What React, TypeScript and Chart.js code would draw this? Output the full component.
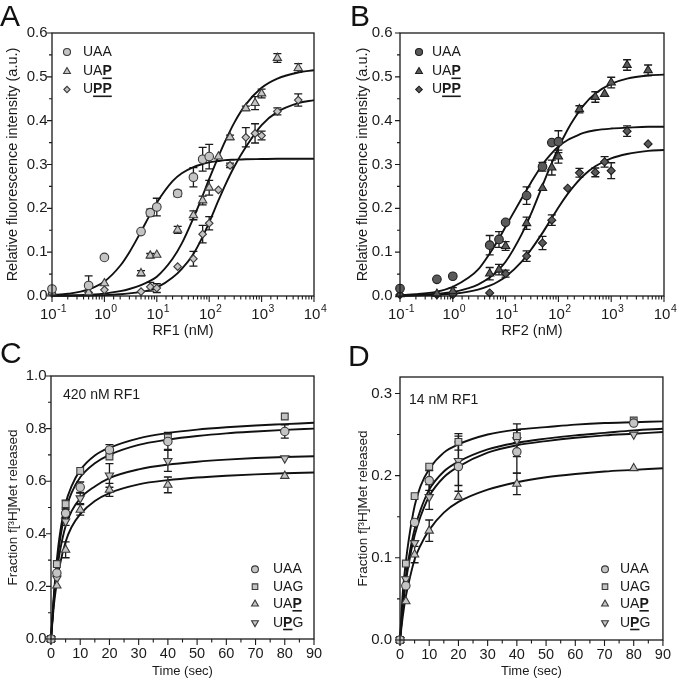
import React, { useEffect, useRef } from 'react';
import { Chart, registerables } from 'chart.js';

Chart.register(...registerables);

const FONT = "'Liberation Sans', Arial, Helvetica, sans-serif";
const TEXT = '#1a1a1a';
Chart.defaults.font.family = FONT;

// ---------------- tick labels ----------------
const LOG_TICK_BASE = '10';
const LOG_TICK_EXP = ['-1', '0', '1', '2', '3', '4'];
const Y_LABELS_AB = ['0.0', '0.1', '0.2', '0.3', '0.4', '0.5', '0.6'];
const Y_LABELS_C = ['0.0', '0.2', '0.4', '0.6', '0.8', '1.0'];
const Y_LABELS_D = ['0.0', '0.1', '0.2', '0.3'];
const TIME_LABELS = ['0', '10', '20', '30', '40', '50', '60', '70', '80', '90'];

// ---------------- Panel A : RF1 (nM) ----------------
const aConcShort = [0.1, 0.5, 1, 5, 7.5, 10, 25, 50, 75, 100];
const aConcLong = [0.1, 0.5, 1, 5, 7.5, 10, 25, 50, 75, 100, 150, 250, 500, 750, 1000, 2000, 5000];
const aUAA = [0.016, 0.024, 0.088, 0.147, 0.19, 0.203, 0.234, 0.271, 0.312, 0.318];
const aUAAerr = [0, 0.022, 0, 0, 0.008, 0.02, 0.007, 0.022, 0.027, 0.028];
const aUAP = [0.008, 0.008, 0.029, 0.052, 0.092, 0.094, 0.151, 0.184, 0.218, 0.247, 0.318, 0.362, 0.428, 0.44, 0.462, 0.543, 0.52];
const aUAPerr = [0, 0, 0, 0.006, 0.005, 0, 0.008, 0.01, 0.01, 0.017, 0, 0.005, 0.005, 0.015, 0.01, 0.01, 0.01];
const aUPP = [0.006, 0.008, 0.014, 0.01, 0.021, 0.018, 0.067, 0.085, 0.141, 0.166, 0.242, 0.298, 0.362, 0.371, 0.366, 0.421, 0.447];
const aUPPerr = [0, 0, 0, 0, 0.01, 0.01, 0, 0.017, 0.02, 0.015, 0, 0.005, 0.022, 0.022, 0.01, 0.008, 0.014];

// fitted curves
const fitConc = [0.1, 0.2, 0.5, 1, 2, 3, 5, 7, 10, 20, 30, 50, 70, 100, 150, 200, 300, 500, 1000, 2000, 5000, 10000];
const aFitUAA = [0.002, 0.005, 0.015, 0.033, 0.069, 0.1, 0.147, 0.18, 0.213, 0.262, 0.28, 0.294, 0.3, 0.305, 0.308, 0.31, 0.311, 0.312, 0.3125, 0.313, 0.313, 0.313];
const aFitUAP = [0.0006, 0.0012, 0.003, 0.0055, 0.011, 0.016, 0.025, 0.033, 0.044, 0.085, 0.12, 0.178, 0.22, 0.267, 0.318, 0.352, 0.395, 0.437, 0.475, 0.496, 0.51, 0.515];
const aFitUPP = [0.0002, 0.0004, 0.001, 0.002, 0.004, 0.006, 0.0095, 0.013, 0.019, 0.042, 0.062, 0.096, 0.128, 0.168, 0.218, 0.252, 0.295, 0.34, 0.39, 0.42, 0.44, 0.447];

// ---------------- Panel B : RF2 (nM) ----------------
const bConcUAA = [0.1, 0.5, 1, 5, 7.5, 10, 25, 50, 75, 100];
const bUAA = [0.017, 0.038, 0.045, 0.116, 0.129, 0.168, 0.229, 0.295, 0.35, 0.352];
const bUAAerr = [0, 0, 0, 0.022, 0.018, 0, 0.02, 0.01, 0, 0.025];
const bConcUAP = [0.1, 0.5, 1, 5, 7.5, 10, 25, 50, 75, 100, 250, 500, 750, 1000, 2000, 5000];
const bUAP = [0.004, 0.005, 0.011, 0.051, 0.06, 0.114, 0.166, 0.246, 0.293, 0.318, 0.426, 0.454, 0.461, 0.487, 0.527, 0.515];
const bUAPerr = [0, 0, 0.008, 0.014, 0.012, 0.01, 0.014, 0, 0.017, 0.015, 0.008, 0.012, 0, 0.012, 0.012, 0.012];
const bConcUPP = [0.1, 0.5, 1, 5, 10, 25, 50, 75, 150, 250, 500, 750, 1000, 2000, 5000];
const bUPP = [0.003, 0.003, 0.003, 0.007, 0.051, 0.091, 0.121, 0.173, 0.246, 0.281, 0.282, 0.306, 0.286, 0.376, 0.347];
const bUPPerr = [0, 0, 0, 0, 0.008, 0.012, 0.015, 0.012, 0, 0.01, 0.01, 0.012, 0.018, 0.012, 0];
const bFitUAA = [0.002, 0.004, 0.01, 0.021, 0.042, 0.06, 0.097, 0.125, 0.158, 0.222, 0.258, 0.3, 0.322, 0.341, 0.356, 0.363, 0.372, 0.378, 0.382, 0.384, 0.386, 0.386];
const bFitUAP = [0.001, 0.002, 0.005, 0.009, 0.018, 0.026, 0.042, 0.057, 0.078, 0.14, 0.186, 0.252, 0.295, 0.338, 0.38, 0.405, 0.435, 0.462, 0.484, 0.496, 0.503, 0.505];
const bFitUPP = [0.0005, 0.001, 0.0025, 0.005, 0.0099, 0.0146, 0.0236, 0.032, 0.044, 0.078, 0.105, 0.144, 0.172, 0.202, 0.233, 0.252, 0.275, 0.296, 0.314, 0.324, 0.331, 0.333];

// ---------------- Panel C : 420 nM RF1, time course ----------------
const times = [0, 2, 5, 10, 20, 40, 80];
const cUAA = [0, 0.251, 0.478, 0.577, 0.719, 0.751, 0.789];
const cUAAerr = [0, 0, 0.015, 0.02, 0.02, 0.03, 0.025];
const cUAG = [0, 0.285, 0.513, 0.639, 0.694, 0.766, 0.846];
const cUAGerr = [0, 0, 0.015, 0, 0, 0.02, 0];
const cUAP = [0, 0.203, 0.339, 0.491, 0.567, 0.586, 0.62];
const cUAPerr = [0, 0, 0.03, 0.02, 0.025, 0.03, 0];
const cUPG = [0, 0.23, 0.447, 0.535, 0.622, 0.677, 0.687];
const cUPGerr = [0, 0, 0.015, 0.02, 0.045, 0.04, 0];
const fitTime = [0, 1, 2, 3, 5, 7, 10, 15, 20, 30, 40, 50, 60, 70, 80, 90];
const cFitUAG = [0, 0.17, 0.3, 0.395, 0.515, 0.58, 0.642, 0.698, 0.727, 0.763, 0.783, 0.796, 0.805, 0.812, 0.817, 0.822];
const cFitUAA = [0, 0.16, 0.28, 0.37, 0.49, 0.555, 0.615, 0.668, 0.7, 0.738, 0.758, 0.772, 0.782, 0.789, 0.795, 0.8];
const cFitUPG = [0, 0.15, 0.255, 0.33, 0.43, 0.485, 0.535, 0.58, 0.612, 0.645, 0.663, 0.674, 0.682, 0.688, 0.692, 0.695];
const cFitUAP = [0, 0.13, 0.215, 0.28, 0.37, 0.425, 0.475, 0.525, 0.555, 0.588, 0.604, 0.614, 0.621, 0.626, 0.63, 0.633];

// ---------------- Panel D : 14 nM RF1, time course ----------------
const dUAA = [0, 0.066, 0.143, 0.194, 0.211, 0.229, 0.264];
const dUAAerr = [0, 0, 0, 0.012, 0.03, 0.026, 0];
const dUAG = [0, 0.093, 0.175, 0.211, 0.241, 0.248, 0.267];
const dUAGerr = [0, 0, 0, 0, 0.01, 0.008, 0];
const dUAP = [0, 0.047, 0.104, 0.133, 0.174, 0.19, 0.209];
const dUAPerr = [0, 0, 0.01, 0.013, 0, 0.013, 0];
const dUPG = [0, 0.074, 0.118, 0.174, 0.218, 0.243, 0.25];
const dUPGerr = [0, 0, 0, 0.015, 0.03, 0.02, 0];
const dFitUAG = [0, 0.06, 0.095, 0.122, 0.163, 0.187, 0.208, 0.228, 0.238, 0.25, 0.256, 0.259, 0.262, 0.264, 0.265, 0.266];
const dFitUAA = [0, 0.045, 0.077, 0.1, 0.135, 0.158, 0.183, 0.205, 0.217, 0.232, 0.24, 0.245, 0.249, 0.252, 0.255, 0.257];
const dFitUPG = [0, 0.04, 0.07, 0.093, 0.127, 0.15, 0.175, 0.198, 0.211, 0.228, 0.237, 0.242, 0.246, 0.249, 0.251, 0.253];
const dFitUAP = [0, 0.03, 0.053, 0.07, 0.098, 0.115, 0.134, 0.155, 0.168, 0.183, 0.192, 0.198, 0.202, 0.205, 0.207, 0.209];

// ---------------- types ----------------
type Style = 'circle' | 'triangle' | 'triangleDown' | 'rect' | 'rectRot';
interface SeriesCfg {
  name: string; bold: number[]; style: Style; r: number;
  x: number[]; y: number[]; err: number[]; fit: number[];
}
interface Panel {
  left: number; top: number; w: number; h: number;
  pad: { left: number; top: number; right: number };
  yAxisW: number; xAxisH: number;
  xLog: boolean; xMin: number; xMax: number; xStep?: number; xLabels: string[]; xEvery: number;
  yMax: number; yStep: number; yLabels: string[]; yEvery: number;
  xTitle: string; yTitle: string; xTitleSize: number; yTitleSize: number;
  xTitlePadB: number; yTitlePadT: number;
  xTickPad: number; yTickPad: number; xTickSize: number; yTickSize: number;
  fill: string; stroke: string; fitX: number[]; series: SeriesCfg[];
  legendMarkerX: number; legendTextX: number; legendY: number[];
  note?: { text: string; x: number; y: number };
}

const panels: Panel[] = [
  {
    left: 0, top: 0, w: 338, h: 342,
    pad: { left: 0, top: 33, right: 24 }, yAxisW: 52, xAxisH: 46,
    xLog: true, xMin: 0.1, xMax: 10000, xLabels: LOG_TICK_EXP, xEvery: 1,
    yMax: 0.6, yStep: 0.05, yLabels: Y_LABELS_AB, yEvery: 2,
    xTitle: 'RF1 (nM)', yTitle: 'Relative fluorescence intensity (a.u.)', xTitleSize: 14.5, yTitleSize: 14.5,
    xTitlePadB: 2.3, yTitlePadT: 4.3, xTickPad: 7.5, yTickPad: 4.5, xTickSize: 15, yTickSize: 15,
    fill: '#c4c4c4', stroke: '#3a3a3a', fitX: fitConc,
    series: [
      { name: 'UAA', bold: [], style: 'circle', r: 4.3, x: aConcShort, y: aUAA, err: aUAAerr, fit: aFitUAA },
      { name: 'UAP', bold: [2], style: 'triangle', r: 4.8, x: aConcLong, y: aUAP, err: aUAPerr, fit: aFitUAP },
      { name: 'UPP', bold: [1, 2], style: 'rectRot', r: 3.8, x: aConcLong, y: aUPP, err: aUPPerr, fit: aFitUPP },
    ],
    legendMarkerX: 67, legendTextX: 83, legendY: [52, 71.5, 89.5],
  },
  {
    left: 338, top: 0, w: 339, h: 342,
    pad: { left: 0, top: 33, right: 13 }, yAxisW: 62, xAxisH: 46,
    xLog: true, xMin: 0.1, xMax: 10000, xLabels: LOG_TICK_EXP, xEvery: 1,
    yMax: 0.6, yStep: 0.05, yLabels: Y_LABELS_AB, yEvery: 2,
    xTitle: 'RF2 (nM)', yTitle: 'Relative fluorescence intensity (a.u.)', xTitleSize: 14.5, yTitleSize: 14.5,
    xTitlePadB: 2.3, yTitlePadT: 16.3, xTickPad: 7.5, yTickPad: 7.5, xTickSize: 15, yTickSize: 15,
    fill: '#5a5a5a', stroke: '#1e1e1e', fitX: fitConc,
    series: [
      { name: 'UAA', bold: [], style: 'circle', r: 4.3, x: bConcUAA, y: bUAA, err: bUAAerr, fit: bFitUAA },
      { name: 'UAP', bold: [2], style: 'triangle', r: 4.8, x: bConcUAP, y: bUAP, err: bUAPerr, fit: bFitUAP },
      { name: 'UPP', bold: [1, 2], style: 'rectRot', r: 4.0, x: bConcUPP, y: bUPP, err: bUPPerr, fit: bFitUPP },
    ],
    legendMarkerX: 81, legendTextX: 94, legendY: [52, 71.5, 89.5],
  },
  {
    left: 0, top: 342, w: 338, h: 342,
    pad: { left: 0, top: 34, right: 24 }, yAxisW: 51, xAxisH: 45,
    xLog: false, xMin: 0, xMax: 90, xStep: 5, xLabels: TIME_LABELS, xEvery: 2,
    yMax: 1.0, yStep: 0.1, yLabels: Y_LABELS_C, yEvery: 2,
    xTitle: 'Time (sec)', yTitle: 'Fraction f[³H]Met released', xTitleSize: 13, yTitleSize: 13.5,
    xTitlePadB: 5.2, yTitlePadT: 4.9, xTickPad: 6, yTickPad: 4.5, xTickSize: 14.5, yTickSize: 15,
    fill: '#c4c4c4', stroke: '#3a3a3a', fitX: fitTime,
    series: [
      { name: 'UAA', bold: [], style: 'circle', r: 4.2, x: times, y: cUAA, err: cUAAerr, fit: cFitUAA },
      { name: 'UAG', bold: [], style: 'rect', r: 4.8, x: times, y: cUAG, err: cUAGerr, fit: cFitUAG },
      { name: 'UAP', bold: [2], style: 'triangle', r: 4.8, x: times, y: cUAP, err: cUAPerr, fit: cFitUAP },
      { name: 'UPG', bold: [1], style: 'triangleDown', r: 4.8, x: times, y: cUPG, err: cUPGerr, fit: cFitUPG },
    ],
    legendMarkerX: 255, legendTextX: 273, legendY: [227.3, 244.7, 262, 280.7],
    note: { text: '420 nM RF1', x: 63, y: 53 },
  },
  {
    left: 338, top: 342, w: 339, h: 342,
    pad: { left: 0, top: 35, right: 13 }, yAxisW: 62, xAxisH: 44,
    xLog: false, xMin: 0, xMax: 90, xStep: 5, xLabels: TIME_LABELS, xEvery: 2,
    yMax: 0.32, yStep: 0.05, yLabels: Y_LABELS_D, yEvery: 2,
    xTitle: 'Time (sec)', yTitle: 'Fraction f[³H]Met released', xTitleSize: 13, yTitleSize: 13.5,
    xTitlePadB: 5.2, yTitlePadT: 16.9, xTickPad: 6, yTickPad: 8, xTickSize: 14.5, yTickSize: 15,
    fill: '#c4c4c4', stroke: '#3a3a3a', fitX: fitTime,
    series: [
      { name: 'UAA', bold: [], style: 'circle', r: 4.2, x: times, y: dUAA, err: dUAAerr, fit: dFitUAA },
      { name: 'UAG', bold: [], style: 'rect', r: 4.8, x: times, y: dUAG, err: dUAGerr, fit: dFitUAG },
      { name: 'UAP', bold: [2], style: 'triangle', r: 4.8, x: times, y: dUAP, err: dUAPerr, fit: dFitUAP },
      { name: 'UPG', bold: [1], style: 'triangleDown', r: 4.8, x: times, y: dUPG, err: dUPGerr, fit: dFitUPG },
    ],
    legendMarkerX: 267, legendTextX: 282, legendY: [227.3, 244.7, 262, 280.7],
    note: { text: '14 nM RF1', x: 71, y: 58 },
  },
];

// ---------------- drawing helpers ----------------
function markerPath(ctx: CanvasRenderingContext2D, style: Style, x: number, y: number, r: number) {
  ctx.beginPath();
  if (style === 'circle') {
    ctx.arc(x, y, r, 0, Math.PI * 2);
  } else if (style === 'rect') {
    const s = r * Math.SQRT1_2;
    ctx.rect(x - s, y - s, 2 * s, 2 * s);
  } else if (style === 'rectRot') {
    ctx.moveTo(x - r, y); ctx.lineTo(x, y - r); ctx.lineTo(x + r, y); ctx.lineTo(x, y + r); ctx.closePath();
  } else {
    let rad = style === 'triangleDown' ? Math.PI : 0;
    ctx.moveTo(x + Math.sin(rad) * r, y - Math.cos(rad) * r);
    rad += (2 * Math.PI) / 3;
    ctx.lineTo(x + Math.sin(rad) * r, y - Math.cos(rad) * r);
    rad += (2 * Math.PI) / 3;
    ctx.lineTo(x + Math.sin(rad) * r, y - Math.cos(rad) * r);
    ctx.closePath();
  }
}

function drawRich(ctx: CanvasRenderingContext2D, text: string, bold: number[], x: number, y: number, size: number) {
  let cx = x;
  let i = 0;
  ctx.textBaseline = 'middle';
  ctx.textAlign = 'left';
  while (i < text.length) {
    const b = bold.includes(i);
    let j = i;
    while (j < text.length && bold.includes(j) === b) j++;
    const seg = text.slice(i, j);
    ctx.font = `${b ? 'bold ' : ''}${size}px ${FONT}`;
    ctx.fillText(seg, cx, y);
    const w = ctx.measureText(seg).width;
    if (b) ctx.fillRect(cx, y + 6, w, 1.6);
    cx += w;
    i = j;
  }
}

function labelFor(labels: string[], step: number, every: number) {
  return (v: any) => {
    const k = Math.round(Number(v) / step);
    if (Math.abs(Number(v) / step - k) > 1e-6 || k % every !== 0) return '';
    return labels[k / every] ?? '';
  };
}

function logExponent(v: number): number | null {
  const l = Math.log10(v);
  const r = Math.round(l);
  return Math.abs(l - r) > 1e-6 ? null : r;
}

function makePlugin(p: Panel) {
  return {
    id: 'panelDecor',
    beforeDatasetsDraw(chart: any) {
      const ctx: CanvasRenderingContext2D = chart.ctx;
      const xs = chart.scales.x;
      const ys = chart.scales.y;
      ctx.save();
      ctx.strokeStyle = '#1a1a1a';
      ctx.lineWidth = 1.3;
      p.series.forEach((s) => {
        s.x.forEach((xv, i) => {
          const e = s.err[i];
          if (!e) return;
          const px = xs.getPixelForValue(xv);
          const top = ys.getPixelForValue(s.y[i] + e);
          const bot = ys.getPixelForValue(s.y[i] - e);
          ctx.beginPath();
          ctx.moveTo(px, top); ctx.lineTo(px, bot);
          ctx.moveTo(px - 4, top); ctx.lineTo(px + 4, top);
          ctx.moveTo(px - 4, bot); ctx.lineTo(px + 4, bot);
          ctx.stroke();
        });
      });
      ctx.restore();
    },
    afterDraw(chart: any) {
      const ctx: CanvasRenderingContext2D = chart.ctx;
      const a = chart.chartArea;
      const xs = chart.scales.x;
      const ys = chart.scales.y;
      ctx.save();
      ctx.strokeStyle = '#1a1a1a';
      ctx.lineWidth = 1.3;
      ctx.strokeRect(a.left, a.top, a.right - a.left, a.bottom - a.top);
      ctx.lineWidth = 1.1;
      ctx.beginPath();
      ys.ticks.forEach((t: any) => {
        const py = ys.getPixelForValue(t.value);
        const len = t.label ? 5 : 3;
        ctx.moveTo(a.left - len, py); ctx.lineTo(a.left, py);
      });
      xs.ticks.forEach((t: any) => {
        const px = xs.getPixelForValue(t.value);
        const major = p.xLog ? logExponent(t.value) !== null : !!t.label;
        const len = major ? 6 : 3.5;
        ctx.moveTo(px, a.bottom); ctx.lineTo(px, a.bottom + len);
      });
      ctx.stroke();

      // log-axis tick labels: "10" with a raised exponent
      if (p.xLog) {
        ctx.fillStyle = TEXT;
        ctx.textBaseline = 'alphabetic';
        ctx.textAlign = 'left';
        xs.ticks.forEach((t: any) => {
          const e = logExponent(t.value);
          if (e === null) return;
          const exp = p.xLabels[e + 1];
          if (exp === undefined) return;
          const px = xs.getPixelForValue(t.value);
          ctx.font = `${p.xTickSize}px ${FONT}`;
          const wb = ctx.measureText(LOG_TICK_BASE).width;
          ctx.font = `${p.xTickSize * 0.7}px ${FONT}`;
          const we = ctx.measureText(exp).width;
          const x0 = px - (wb + we) / 2 + 1;
          const base = a.bottom + 22.5;
          ctx.font = `${p.xTickSize}px ${FONT}`;
          ctx.fillText(LOG_TICK_BASE, x0, base);
          ctx.font = `${p.xTickSize * 0.7}px ${FONT}`;
          ctx.fillText(exp, x0 + wb + 0.5, base - 6.5);
        });
      }

      // legend
      p.series.forEach((s, i) => {
        const y = p.legendY[i];
        ctx.save();
        ctx.fillStyle = p.fill;
        ctx.strokeStyle = p.stroke;
        ctx.lineWidth = 1.1;
        markerPath(ctx, s.style, p.legendMarkerX, y, s.r * 0.82);
        ctx.fill();
        ctx.stroke();
        ctx.restore();
        ctx.fillStyle = TEXT;
        drawRich(ctx, s.name, s.bold, p.legendTextX, y, 14);
      });

      if (p.note) {
        ctx.fillStyle = TEXT;
        ctx.font = `14px ${FONT}`;
        ctx.textBaseline = 'middle';
        ctx.textAlign = 'left';
        ctx.fillText(p.note.text, p.note.x, p.note.y);
      }
      ctx.restore();
    },
  };
}

function buildConfig(p: Panel): any {
  const datasets: any[] = [];
  p.series.forEach((s) => {
    datasets.push({
      type: 'scatter',
      label: s.name,
      data: s.x.map((x, i) => ({ x, y: s.y[i] })),
      pointStyle: s.style === 'triangleDown' ? 'triangle' : s.style,
      pointRotation: s.style === 'triangleDown' ? 180 : 0,
      pointRadius: s.r,
      pointHoverRadius: s.r,
      backgroundColor: p.fill,
      borderColor: p.stroke,
      borderWidth: 1.1,
      showLine: false,
      clip: false,
      order: 0,
    });
    datasets.push({
      type: 'line',
      label: s.name + ' fit',
      data: p.fitX.map((x, i) => ({ x, y: s.fit[i] })),
      borderColor: '#111111',
      borderWidth: 1.9,
      pointRadius: 0,
      pointHoverRadius: 0,
      fill: false,
      cubicInterpolationMode: 'monotone',
      clip: false,
      order: 1,
    });
  });

  const xTicks: any = {
    autoSkip: false, maxRotation: 0, minRotation: 0, includeBounds: false,
    padding: p.xTickPad, color: TEXT,
    font: { size: p.xTickSize, family: FONT },
  };
  if (p.xLog) {
    xTicks.display = false;
  } else {
    xTicks.stepSize = p.xStep;
    xTicks.callback = labelFor(p.xLabels, p.xStep || 1, p.xEvery);
  }

  return {
    type: 'scatter',
    data: { datasets },
    plugins: [makePlugin(p)],
    options: {
      responsive: false,
      maintainAspectRatio: false,
      animation: false,
      devicePixelRatio: 1,
      events: [],
      layout: { padding: { left: p.pad.left, top: p.pad.top, right: p.pad.right, bottom: 0 } },
      plugins: { legend: { display: false }, tooltip: { enabled: false }, title: { display: false } },
      scales: {
        x: {
          type: p.xLog ? 'logarithmic' : 'linear',
          position: 'bottom',
          min: p.xMin,
          max: p.xMax,
          grid: { display: false, drawTicks: false },
          border: { display: false },
          ticks: xTicks,
          title: {
            display: true, text: p.xTitle, color: TEXT,
            font: { size: p.xTitleSize, family: FONT },
            padding: { top: 0, bottom: p.xTitlePadB },
          },
          afterFit: (s: any) => { s.height = p.xAxisH; },
        },
        y: {
          type: 'linear',
          position: 'left',
          min: 0,
          max: p.yMax,
          grid: { display: false, drawTicks: false },
          border: { display: false },
          ticks: {
            stepSize: p.yStep, includeBounds: false, autoSkip: false,
            padding: p.yTickPad, color: TEXT,
            font: { size: p.yTickSize, family: FONT },
            callback: labelFor(p.yLabels, p.yStep, p.yEvery),
          },
          title: {
            display: true, text: p.yTitle, color: TEXT,
            font: { size: p.yTitleSize, family: FONT },
            padding: { top: p.yTitlePadT, bottom: 0 },
          },
          afterFit: (s: any) => { s.width = p.yAxisW; },
        },
      },
    },
  };
}

function PanelChart({ p }: { p: Panel }) {
  const ref = useRef<HTMLCanvasElement>(null);
  useEffect(() => {
    const chart = new Chart(ref.current as HTMLCanvasElement, buildConfig(p));
    return () => chart.destroy();
  }, [p]);
  return (
    <canvas
      ref={ref}
      width={p.w}
      height={p.h}
      style={{ position: 'absolute', left: p.left, top: p.top, width: p.w, height: p.h }}
    />
  );
}

const panelLetters = [
  { t: 'A', left: 0, top: 1 },
  { t: 'B', left: 350, top: 1 },
  { t: 'C', left: 0, top: 338 },
  { t: 'D', left: 348, top: 341 },
];

export default function App() {
  return (
    <div style={{ position: 'absolute', left: 0, top: 0, width: 677, height: 684, background: '#ffffff', overflow: 'hidden' }}>
      {panels.map((p, i) => (
        <PanelChart key={i} p={p} />
      ))}
      {panelLetters.map((l) => (
        <div
          key={l.t}
          style={{
            position: 'absolute', left: l.left, top: l.top, fontFamily: FONT,
            fontSize: 30, lineHeight: '30px', color: '#111', pointerEvents: 'none',
          }}
        >
          {l.t}
        </div>
      ))}
    </div>
  );
}
